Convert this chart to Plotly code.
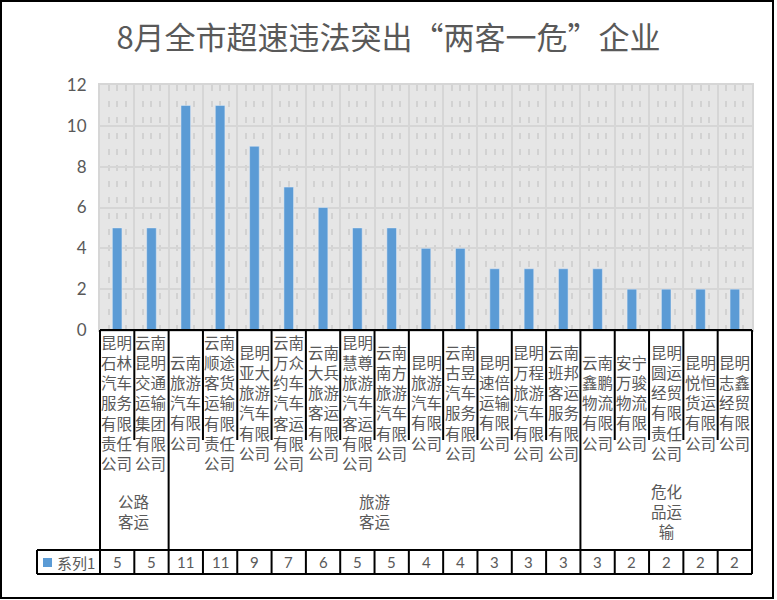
import plotly.graph_objects as go

# chart data
title_text = "8月全市超速违法突出“两客一危”企业"
series_name = "系列1"
companies = [
    "昆明石林汽车服务有限责任公司",
    "云南昆明交通运输集团有限公司",
    "云南旅游汽车有限公司",
    "云南顺途客货运输有限责任公司",
    "昆明亚大旅游汽车有限公司",
    "云南万众约车汽车客运有限公司",
    "云南大兵旅游客运有限公司",
    "昆明慧尊旅游汽车客运有限公司",
    "云南南方旅游汽车有限公司",
    "昆明旅游汽车有限公司",
    "云南古昱汽车服务有限公司",
    "昆明速倍运输有限公司",
    "昆明万程旅游汽车有限公司",
    "云南班邦客运服务有限公司",
    "云南鑫鹏物流有限公司",
    "安宁万骏物流有限公司",
    "昆明圆运经贸有限责任公司",
    "昆明悦恒货运有限公司",
    "昆明志鑫经贸有限公司",
]
groups = ["公路客运", "旅游客运", "危化品运输"]
group_sizes = [2, 12, 5]
counts = [5, 5, 11, 11, 9, 7, 6, 5, 5, 4, 4, 3, 3, 3, 3, 2, 2, 2, 2]

# layout in pixels
W, H = 777, 600
L, R, T, B = 100, 25, 85, 270
PW = W - L - R
PH = H - T - B

BAR = "#5b9bd5"
TXT = "#595959"
GRID = "#d6d6d6"
CJK = "Noto Sans CJK SC"
NUM = "Lato, Noto Sans CJK SC"


def px_x(px):
    return (px - L) / PW


def px_y(py):
    return (H - B - py) / PH


def wrap2(s):
    # excel wraps these labels two characters per line
    return "<br>".join(s[i:i + 2] for i in range(0, len(s), 2))


n = len(companies)
idx = list(range(n))

fig = go.Figure()
fig.add_trace(go.Bar(x=idx, y=counts, name=series_name, marker_color=BAR,
                     width=0.28, showlegend=False))

# table lines
black = dict(color="black", width=2)
shapes = []


def vline(x, y0, y1, xref="x"):
    shapes.append(dict(type="line", xref=xref, yref="paper", x0=x, x1=x,
                       y0=px_y(y0), y1=px_y(y1), line=black))


def hline(x0, x1, y):
    shapes.append(dict(type="line", xref="paper", yref="paper", x0=x0, x1=x1,
                       y0=px_y(y), y1=px_y(y), line=black))


row_top, row_bot = 550, 574
group_edges = []
acc = 0
for s in group_sizes[:-1]:
    acc += s
    group_edges.append(acc - 0.5)

for i in range(n - 1):
    b = i + 0.5
    if b in group_edges:
        vline(b, 330, row_bot)
    else:
        vline(b, 330, 440)
        vline(b, row_top, row_bot)
vline(0, 330, row_bot, xref="paper")
vline(1, 330, row_bot, xref="paper")
vline(px_x(37), row_top, row_bot, xref="paper")
hline(0, 1, 330)
hline(px_x(37), 1, row_top)
hline(px_x(37), 1, row_bot)

# legend key
shapes.append(dict(type="rect", xref="paper", yref="paper",
                   x0=px_x(43), x1=px_x(52), y0=px_y(558), y1=px_y(567),
                   fillcolor=BAR, line=dict(width=0)))

# outer chart border
shapes.append(dict(type="rect", xref="paper", yref="paper",
                   x0=px_x(1), x1=px_x(773), y0=px_y(1), y1=px_y(598),
                   line=dict(color="black", width=2)))

ann = []
for i, name in enumerate(companies):
    ann.append(dict(x=i, xref="x", y=px_y(402), yref="paper", text=wrap2(name),
                    showarrow=False, yanchor="middle",
                    font=dict(family=CJK, size=15.5, color=TXT)))
    ann.append(dict(x=i, xref="x", y=px_y(562), yref="paper", text=str(counts[i]),
                    showarrow=False, yanchor="middle",
                    font=dict(family=NUM, size=15, color=TXT)))

start = 0
for g, s in zip(groups, group_sizes):
    ann.append(dict(x=start + (s - 1) / 2, xref="x", y=px_y(511), yref="paper",
                    text=wrap2(g), showarrow=False, yanchor="middle",
                    font=dict(family=CJK, size=15.5, color=TXT)))
    start += s

ann.append(dict(x=px_x(55), xref="paper", y=px_y(562), yref="paper",
                text=series_name, showarrow=False, xanchor="left", yanchor="middle",
                font=dict(family=CJK, size=15, color=TXT)))

fig.update_layout(
    width=W, height=H, autosize=False,
    margin=dict(l=L, r=R, t=T, b=B),
    paper_bgcolor="white", plot_bgcolor="#e6e6e6",
    title=dict(text=title_text, x=0.5, xanchor="center", y=1 - 38 / H,
               yanchor="middle", font=dict(family=CJK, size=31, color=TXT)),
    shapes=shapes, annotations=ann, bargap=0.72,
)
fig.update_xaxes(range=[-0.5, n - 0.5], tick0=0.5, dtick=1, showticklabels=False,
                 ticks="", showgrid=True, gridcolor=GRID, gridwidth=2,
                 zeroline=False, showline=True, linecolor=GRID, linewidth=2, mirror=True,
                 minor=dict(tick0=-0.5, dtick=0.25, showgrid=True, gridcolor="#d2d2d2",
                            gridwidth=2, griddash="6px,10px", ticks=""))
fig.update_yaxes(range=[0, 12], dtick=2, showgrid=True, gridcolor=GRID, gridwidth=2,
                 zeroline=False, showline=True, linecolor=GRID, linewidth=2, mirror=True,
                 ticks="", ticklabelstandoff=8,
                 tickfont=dict(family=NUM, size=17, color=TXT))

# drop the browser's default page margin so the chart sits at 0,0
fig.write_html("out.html", config={"displayModeBar": False},
               post_script="document.body.style.margin='0';")
